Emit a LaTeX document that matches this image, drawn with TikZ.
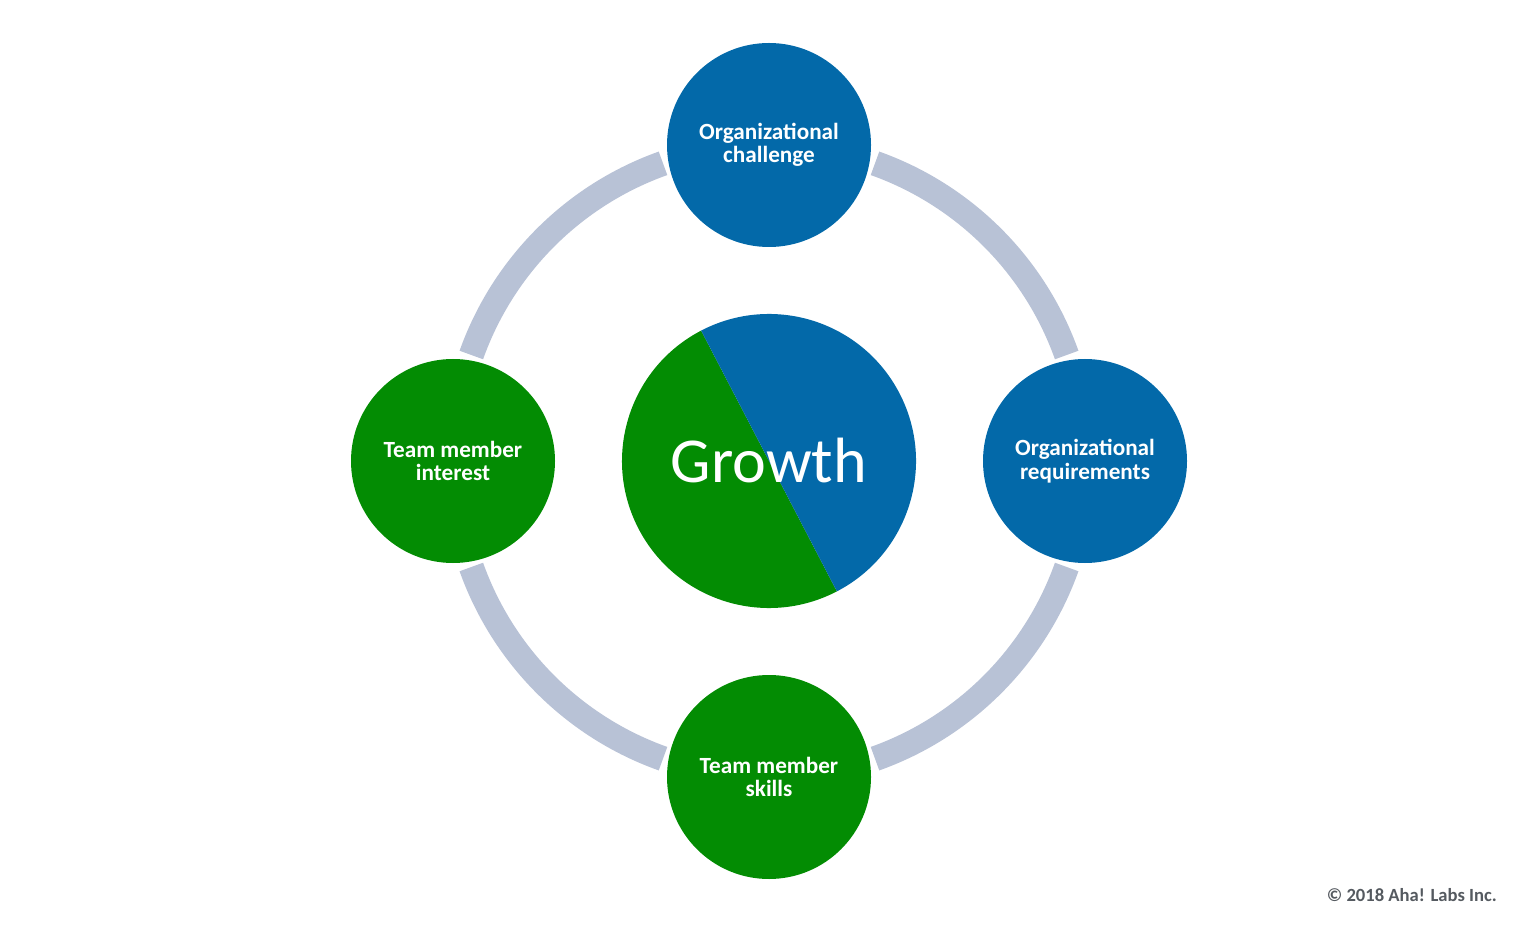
\documentclass[tikz,border=0pt]{standalone}
\usepackage{fontspec}
\setmainfont{Carlito}
\usetikzlibrary{calc}
\definecolor{cblue}{HTML}{0369A9}
\definecolor{cgreen}{HTML}{038C03}
\definecolor{cring}{HTML}{B8C2D6}
\definecolor{cgray}{HTML}{555A60}
\tikzset{
  satellite/.style={circle, minimum size=204pt, inner sep=0pt, align=center,
    text=white, font=\fontsize{23.2}{23.5}\selectfont\bfseries},
  bluesat/.style={satellite, fill=cblue},
  greensat/.style={satellite, fill=cgreen},
  ringarc/.style={draw=cring, line width=25pt, line cap=butt},
}
\begin{document}
\begin{tikzpicture}[x=1pt,y=1pt]
\useasboundingbox (0,0) rectangle (1530,930);
\coordinate (c) at (769,469);
% ring arcs
\foreach \a in {0,90,180,270}{
  \draw[ringarc] ($(c)+(\a+19.6:316pt)$) arc[start angle=\a+19.6, end angle=\a+90-19.6, radius=316pt];
}
% center circle
\fill[cgreen] (c) -- ++(117.5:147pt) arc[start angle=117.5, end angle=297.5, radius=147pt] -- cycle;
\fill[cblue] (c) -- ++(-62.5:147pt) arc[start angle=-62.5, end angle=117.5, radius=147pt] -- cycle;
\node[circle, minimum size=294pt, inner sep=0pt, text=white, font=\fontsize{64}{70}\selectfont] (growth) at (c) {Growth};
% satellites
\node[bluesat] (top) at (769,785) {Organizational\\challenge};
\node[bluesat] (right) at (1085,469) {Organizational\\requirements};
\node[greensat] (bottom) at (769,153) {Team member\\skills};
\node[greensat] (left) at (453,469) {Team member\\interest};
% copyright
\node[anchor=east, text=cgray, font=\fontsize{18.6}{20}\selectfont\bfseries, inner sep=0pt] (copy) at (1497,35) {© 2018 Aha! Labs Inc.};
\end{tikzpicture}
\end{document}
